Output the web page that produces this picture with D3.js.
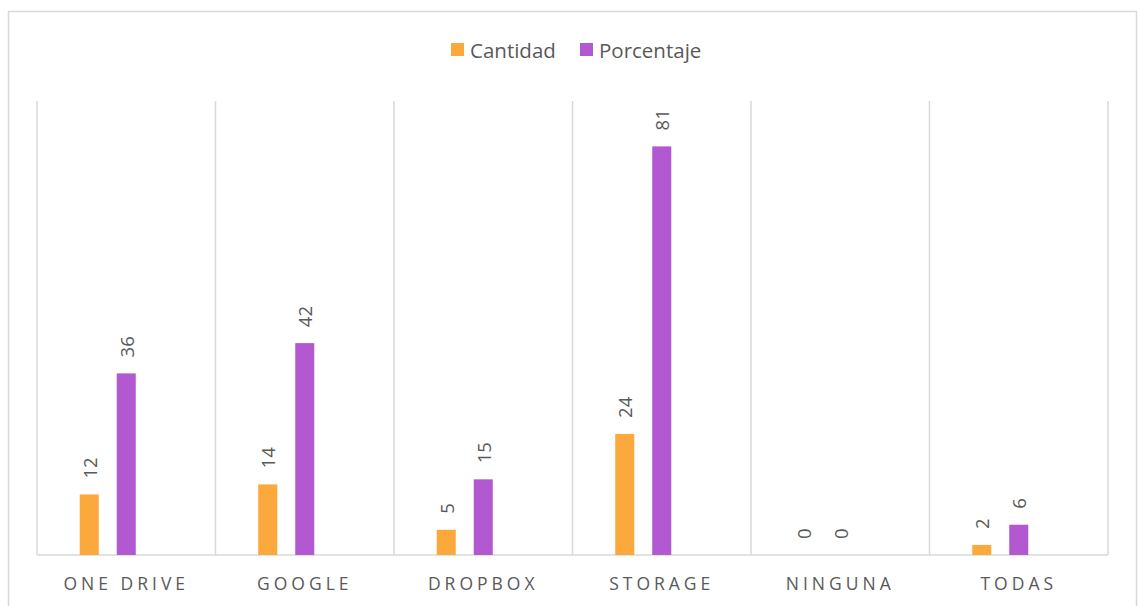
<!DOCTYPE html>
<html>
<head>
<meta charset="utf-8">
<script src="https://cdn.jsdelivr.net/npm/d3@7"></script>
<style>
  body { margin: 0; background: #fff; }
  svg { font-family: "Open Sans", sans-serif; }
</style>
</head>
<body>
<div id="chart"></div>
<script>
const categories = ["ONE DRIVE", "GOOGLE", "DROPBOX", "STORAGE", "NINGUNA", "TODAS"];
const cantidad = [12, 14, 5, 24, 0, 2];
const porcentaje = [36, 42, 15, 81, 0, 6];
const seriesNames = ["Cantidad", "Porcentaje"];
const colors = ["#FBA83C", "#B258D1"];

const width = 1139, height = 606;
const plot = { left: 37, right: 1108, top: 101, bottom: 555 };

const svg = d3.select("#chart")
    .append("svg")
    .attr("width", width)
    .attr("height", height);

// chart border
svg.append("rect")
    .attr("x", 8.5).attr("y", 11.5)
    .attr("width", 1128).attr("height", 620)
    .attr("fill", "none")
    .attr("stroke", "#D9D9D9")
    .attr("stroke-width", 1.5);

const x = d3.scaleBand()
    .domain(categories)
    .range([plot.left, plot.right]);

// Excel leaves room for a third (empty) slot
const xs = d3.scaleBand()
    .domain(seriesNames.concat([""]))
    .range([0, x.bandwidth()])
    .paddingInner(0.486)
    .paddingOuter(1.155);

const y = d3.scaleLinear()
    .domain([0, 90])
    .range([plot.bottom, plot.top]);

// vertical category separators
svg.append("g")
    .selectAll("line")
    .data(categories.concat(["end"]))
    .join("line")
    .attr("x1", (d, i) => i < categories.length ? x(d) : plot.right)
    .attr("x2", (d, i) => i < categories.length ? x(d) : plot.right)
    .attr("y1", y(90))
    .attr("y2", y(0))
    .attr("stroke", "#D9D9D9")
    .attr("stroke-width", 1.5);

// baseline
svg.append("line")
    .attr("x1", plot.left).attr("x2", plot.right)
    .attr("y1", y(0)).attr("y2", y(0))
    .attr("stroke", "#D9D9D9")
    .attr("stroke-width", 1.5);

const rows = categories.map((c, i) => ({ cat: c, vals: [cantidad[i], porcentaje[i]] }));

const groups = svg.append("g")
    .selectAll("g")
    .data(rows)
    .join("g")
    .attr("transform", d => "translate(" + x(d.cat) + ",0)");

groups.selectAll("rect")
    .data(d => d.vals.map((v, j) => ({ v: v, s: seriesNames[j], j: j })))
    .join("rect")
    .attr("x", d => xs(d.s))
    .attr("width", xs.bandwidth())
    .attr("y", d => y(d.v))
    .attr("height", d => y(0) - y(d.v))
    .attr("fill", d => colors[d.j]);

// value labels, rotated
groups.selectAll("text")
    .data(d => d.vals.map((v, j) => ({ v: v, s: seriesNames[j] })))
    .join("text")
    .attr("transform", d => "translate(" + (xs(d.s) + xs.bandwidth() / 2) + "," + (y(d.v) - 16) + ") rotate(-90)")
    .attr("dominant-baseline", "central")
    .attr("font-size", 18.5)
    .attr("fill", "#595959")
    .text(d => d.v);

// category labels
svg.append("g")
    .selectAll("text")
    .data(categories)
    .join("text")
    .attr("x", d => x(d) + x.bandwidth() / 2)
    .attr("y", 590)
    .attr("text-anchor", "middle")
    .attr("font-size", 17.5)
    .attr("letter-spacing", "4px")
    .attr("fill", "#595959")
    .text(d => d);

// legend
const legendX = [451, 580];
const legend = svg.append("g")
    .selectAll("g")
    .data(seriesNames)
    .join("g")
    .attr("transform", (d, i) => "translate(" + legendX[i] + ",43)");

legend.append("rect")
    .attr("width", 13).attr("height", 13)
    .attr("fill", (d, i) => colors[i]);

legend.append("text")
    .attr("x", 19)
    .attr("y", 14.5)
    .attr("font-size", 20.5)
    .attr("fill", "#595959")
    .text(d => d);
</script>
</body>
</html>
